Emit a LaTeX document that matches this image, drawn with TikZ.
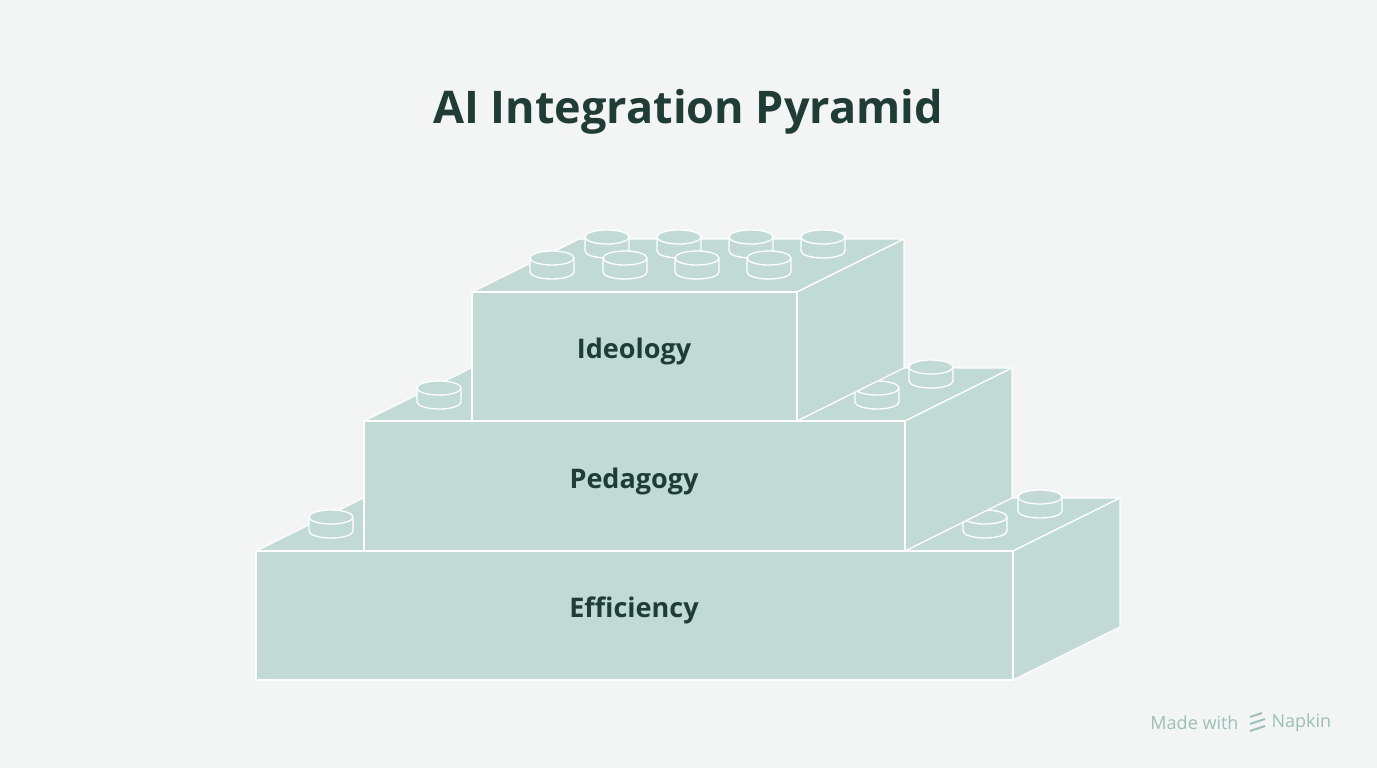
\documentclass[tikz,border=0pt]{standalone}
\usepackage{fontspec}
\setmainfont{Open Sans}
\definecolor{bg}{HTML}{F2F5F4}
\definecolor{blk}{HTML}{C1DAD5}
\definecolor{ink}{HTML}{1F3D36}
\definecolor{wm}{HTML}{9DBFB5}
\begin{document}
\begin{tikzpicture}[x=1pt,y=-1pt,
  face/.style={fill=blk,draw=white,line width=1.3pt,line join=round},
  lbl/.style={text=ink,font=\bfseries\fontsize{27}{30}\selectfont}]
\fill[bg] (0,0) rectangle (1377,768);
\useasboundingbox (0,0) rectangle (1377,768);
\def\dx{107}\def\dy{-53}
\newcommand\myblock[4]{%
  \draw[face] (#1,#3) -- ++(\dx,\dy) -- (#2+\dx,#3+\dy) -- (#2,#3) -- cycle;
  \draw[face] (#2,#3) -- (#2+\dx,#3+\dy) -- (#2+\dx,#4+\dy) -- (#2,#4) -- cycle;
  \draw[face] (#1,#3) rectangle (#2,#4);}
\newcommand\mystud[2]{%
  \draw[face] (#1-22,#2) -- (#1-22,#2+14) arc[start angle=180,end angle=0,x radius=22,y radius=7] -- (#1+22,#2);
  \draw[face] (#1,#2) ellipse[x radius=22,y radius=7];}
\node[text=ink,font=\bfseries\fontsize{45}{50}\selectfont] (title) at (688,112) {AI Integration Pyramid};
\myblock{256}{1013}{551}{680}
\mystud{1040}{497}\mystud{331}{517}\mystud{985}{517}
\myblock{364}{905}{421}{551}
\mystud{931}{367}\mystud{439}{388}\mystud{877}{388}
\myblock{472}{797}{292}{421}
\mystud{607}{237}\mystud{679}{237}\mystud{751}{237}\mystud{823}{237}
\mystud{552}{258}\mystud{625}{258}\mystud{697}{258}\mystud{769}{258}
\node[lbl] (ideo) at (634,351) {Ideology};
\node[lbl] (peda) at (634,481) {Pedagogy};
\node[lbl] (effi) at (634,610) {Efficiency};
\node[text=wm,font=\fontsize{18}{20}\selectfont,anchor=east] (made) at (1242,723) {Made with};
\draw[wm,line width=2pt] (1250,717) -- (1262,713) (1250,724) -- (1265,719) (1250,731) -- (1265,726);
\node[text=wm,font=\fontsize{18}{20}\selectfont,anchor=west] (napkin) at (1268,723) {Napkin};
\end{tikzpicture}
\end{document}
